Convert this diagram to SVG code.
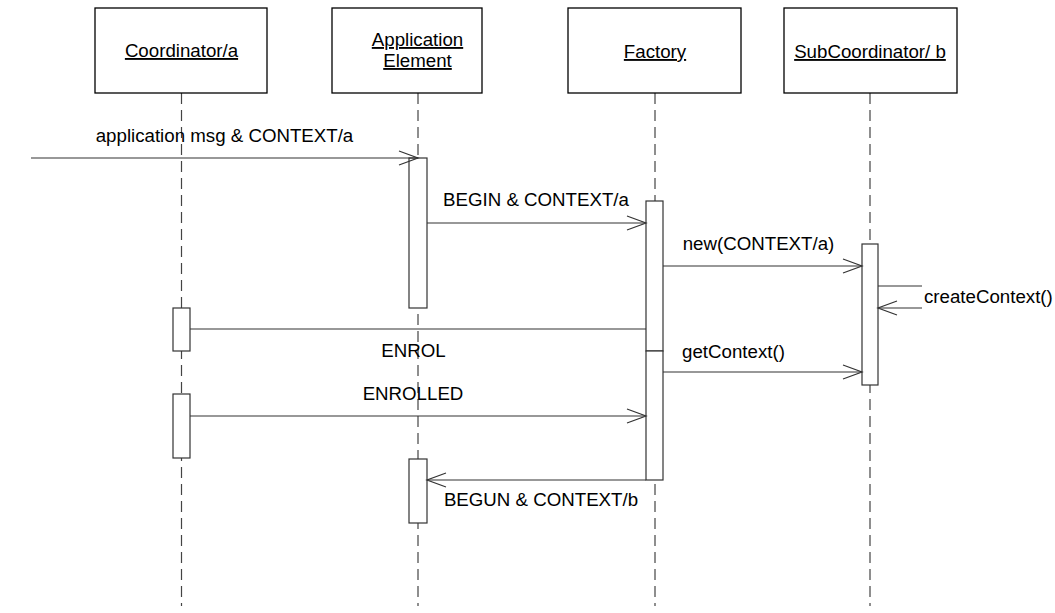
<svg xmlns="http://www.w3.org/2000/svg" width="1055" height="613" viewBox="0 0 1055 613">
<defs>
<style>
.box{fill:#fff;stroke:#000;stroke-width:1.3}
.act{fill:#fff;stroke:#333;stroke-width:1.2}
.life{stroke:#444;stroke-width:1.2;stroke-dasharray:11 6;fill:none}
.msg{stroke:#333;stroke-width:1.2;fill:none}
.t{font-family:"Liberation Sans",Arial,sans-serif;font-size:18.7px;fill:#000}
.u{text-decoration:underline}
</style>
<marker id="arr" markerUnits="userSpaceOnUse" markerWidth="22" markerHeight="18" viewBox="-20 -9 22 18" refX="0" refY="0" orient="auto">
<path d="M-19,-7 L0,0 L-19,7" fill="none" stroke="#333" stroke-width="1.2"/>
</marker>
</defs>
<rect width="1055" height="613" fill="#fff"/>
<g id="lifelines">
<line class="life" x1="181.5" y1="93" x2="181.5" y2="606"/>
<line class="life" x1="418" y1="93" x2="418" y2="606"/>
<line class="life" x1="655" y1="93" x2="655" y2="606"/>
<line class="life" x1="870" y1="93" x2="870" y2="606"/>
</g>
<g id="node-coordinator">
<rect class="box" x="95" y="8" width="172" height="85"/>
<text class="t u" x="181.5" y="57" text-anchor="middle">Coordinator/a</text>
</g>
<g id="node-application">
<rect class="box" x="332" y="8" width="150" height="85"/>
<text class="t u" x="417.5" y="46" text-anchor="middle">Application</text>
<text class="t u" x="417.5" y="67" text-anchor="middle">Element</text>
</g>
<g id="node-factory">
<rect class="box" x="568" y="8" width="173" height="85"/>
<text class="t u" x="655" y="58" text-anchor="middle">Factory</text>
</g>
<g id="node-subcoordinator">
<rect class="box" x="784" y="8" width="173" height="85"/>
<text class="t u" x="870" y="58" text-anchor="middle">SubCoordinator/ b</text>
</g>
<g id="activations">
<rect class="act" x="409" y="158" width="18" height="150"/>
<rect class="act" x="409" y="459" width="18" height="64"/>
<rect class="act" x="646" y="201" width="17" height="150"/>
<rect class="act" x="646" y="351" width="17" height="129"/>
<rect class="act" x="862" y="244" width="16" height="141"/>
<rect class="act" x="173" y="308" width="17" height="43"/>
<rect class="act" x="173" y="394" width="17" height="64"/>
</g>
<g id="connectors">
<line class="msg" x1="31" y1="158" x2="418" y2="158" marker-end="url(#arr)"/>
<line class="msg" x1="427" y1="223" x2="646" y2="223" marker-end="url(#arr)"/>
<line class="msg" x1="663" y1="266" x2="862" y2="266" marker-end="url(#arr)"/>
<line class="msg" x1="878" y1="286" x2="922" y2="286"/>
<line class="msg" x1="922" y1="308" x2="878" y2="308" marker-end="url(#arr)"/>
<line class="msg" x1="646" y1="329" x2="190" y2="329"/>
<line class="msg" x1="663" y1="372" x2="862" y2="372" marker-end="url(#arr)"/>
<line class="msg" x1="190" y1="416" x2="646" y2="416" marker-end="url(#arr)"/>
<line class="msg" x1="646" y1="480" x2="427" y2="480" marker-end="url(#arr)"/>
</g>
<g id="labels">
<text class="t" x="224.5" y="142" text-anchor="middle">application msg &amp; CONTEXT/a</text>
<text class="t" x="536" y="206" text-anchor="middle">BEGIN &amp; CONTEXT/a</text>
<text class="t" x="758.5" y="250" text-anchor="middle">new(CONTEXT/a)</text>
<text class="t" x="924" y="303">createContext()</text>
<text class="t" x="413.5" y="357" text-anchor="middle">ENROL</text>
<text class="t" x="733.5" y="358" text-anchor="middle">getContext()</text>
<text class="t" x="413" y="400" text-anchor="middle">ENROLLED</text>
<text class="t" x="541" y="506" text-anchor="middle">BEGUN &amp; CONTEXT/b</text>
</g>
</svg>
